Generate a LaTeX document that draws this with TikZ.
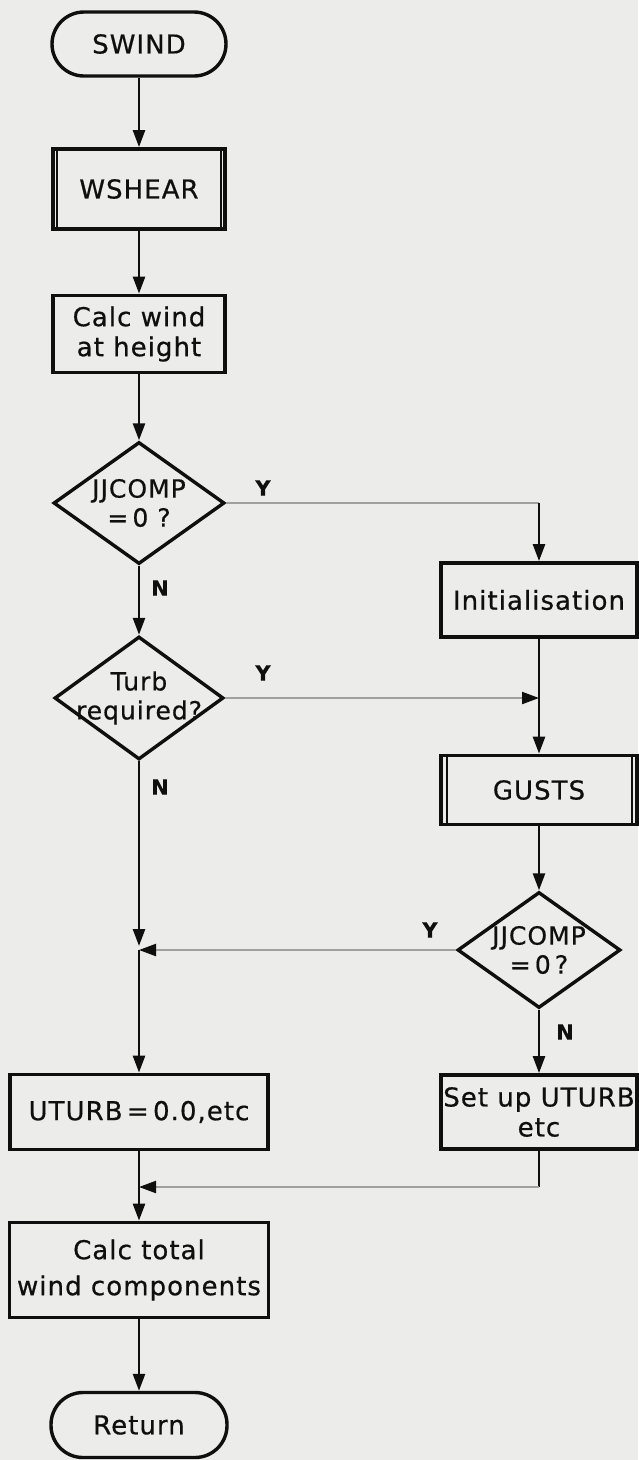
\documentclass[tikz,border=0pt]{standalone}
\usepackage{fontspec}
\setmainfont{DejaVu Sans}[LetterSpace=4,FakeBold=0.6]
\usetikzlibrary{shapes.geometric,arrows.meta,calc}
\definecolor{paper}{RGB}{236,236,234}
\definecolor{ink}{RGB}{15,15,15}
\definecolor{faint}{RGB}{160,160,160}
\begin{document}
\begin{tikzpicture}[x=1pt,y=-1pt,
  box/.style={draw=ink, line width=3.8pt, align=center, inner sep=0pt,
    text=ink, font=\fontsize{26}{30}\selectfont},
  term/.style={box, line width=3.4pt, rounded corners=32pt},
  dec/.style={shape=diamond, draw=ink, line width=3.4pt, inner sep=0pt},
  dtext/.style={align=center, text=ink, font=\fontsize{25}{29}\selectfont},
  flow/.style={draw=ink, line width=2.6pt, -{Triangle[length=17pt,width=12pt]}},
  link/.style={draw=ink, line width=2.6pt},
  grey/.style={draw=faint, line width=2.2pt},
  greyarr/.style={grey, -{Triangle[length=17pt,width=12pt,color=ink]}},
  bar/.style={draw=ink, line width=2.2pt},
  lab/.style={text=ink, font=\bfseries\fontsize{21}{23}\selectfont}]
\fill[paper] (0,0) rectangle (638,1460);
\useasboundingbox (0,0) rectangle (638,1460);

% left column
\node[term, minimum width=174pt, minimum height=64pt] (swind) at (139,44) {SWIND};
\node[box, minimum width=172pt, minimum height=80pt] (wshear) at (139,189) {WSHEAR};
\draw[bar] ([xshift=6pt]wshear.north west) -- ([xshift=6pt]wshear.south west);
\draw[bar] ([xshift=-6pt]wshear.north east) -- ([xshift=-6pt]wshear.south east);
\node[box, minimum width=172pt, minimum height=77pt] (calc) at (139,334) {Calc wind\\at height};
\node[dec, minimum width=171pt, minimum height=122pt,
  label={[dtext]center:{JJCOMP\\=\,0 ?}}] (d1) at (139,503) {};
\node[dec, minimum width=169pt, minimum height=123pt,
  label={[dtext]center:{Turb\\required?}}] (d2) at (139,698) {};
\node[box, minimum width=258pt, minimum height=75pt] (uturb) at (139,1112) {UTURB\,=\,0.0,etc};
\node[box, minimum width=259pt, minimum height=95pt, font=\fontsize{26}{36}\selectfont] (total) at (139,1270) {Calc total\\wind components};
\node[term, minimum width=176pt, minimum height=65pt] (ret) at (139,1425) {Return};

% right column
\node[box, minimum width=196pt, minimum height=74pt] (init) at (539,600) {Initialisation};
\node[box, minimum width=196pt, minimum height=69pt] (gusts) at (539,790) {GUSTS};
\draw[bar] ([xshift=8pt]gusts.north west) -- ([xshift=8pt]gusts.south west);
\draw[bar] ([xshift=-7pt]gusts.north east) -- ([xshift=-7pt]gusts.south east);
\node[dec, minimum width=163pt, minimum height=116pt,
  label={[dtext]center:{JJCOMP\\=\,0\,?}}] (d3) at (539,950) {};
\node[box, minimum width=196pt, minimum height=74pt] (setup) at (539,1112) {Set up UTURB\\etc};

% junctions
\coordinate (c1) at (d1.east -| init.north);
\coordinate (j1) at (d2.east -| init.south);
\coordinate (j2) at (d3.west -| d2.south);
\coordinate (c3) at (539,1187);
\coordinate (j3) at (c3 -| uturb.south);

% connectors
\draw[flow] (swind) -- (wshear);
\draw[flow] (wshear) -- (calc);
\draw[flow] (calc) -- (d1);
\draw[flow] (d1.south) -- (d2.north);
\draw[grey] (d1.east) -- (c1);
\draw[flow] (c1) -- (init.north);
\draw[flow] (init) -- (gusts);
\draw[greyarr] (d2.east) -- (j1);
\draw[flow] (gusts) -- (d3.north);
\draw[flow] (d3.south) -- (setup.north);
\draw[greyarr] (d3.west) -- (j2);
\draw[flow, shorten >=4pt] (d2.south) -- (j2);
\draw[flow] (j2) -- (uturb.north);
\draw[link] (setup.south) -- (c3);
\draw[greyarr] (c3) -- (j3);
\draw[link] (uturb.south) -- (j3);
\draw[flow] (j3) -- (total.north);
\draw[flow] (total) -- (ret);

% branch labels
\node[lab] (y1) at (263,488) {Y};
\node[lab] (n1) at (160,588) {N};
\node[lab] (y2) at (263,673) {Y};
\node[lab] (n2) at (160,787) {N};
\node[lab] (y3) at (430,930) {Y};
\node[lab] (n3) at (565,1032) {N};
\end{tikzpicture}
\end{document}
